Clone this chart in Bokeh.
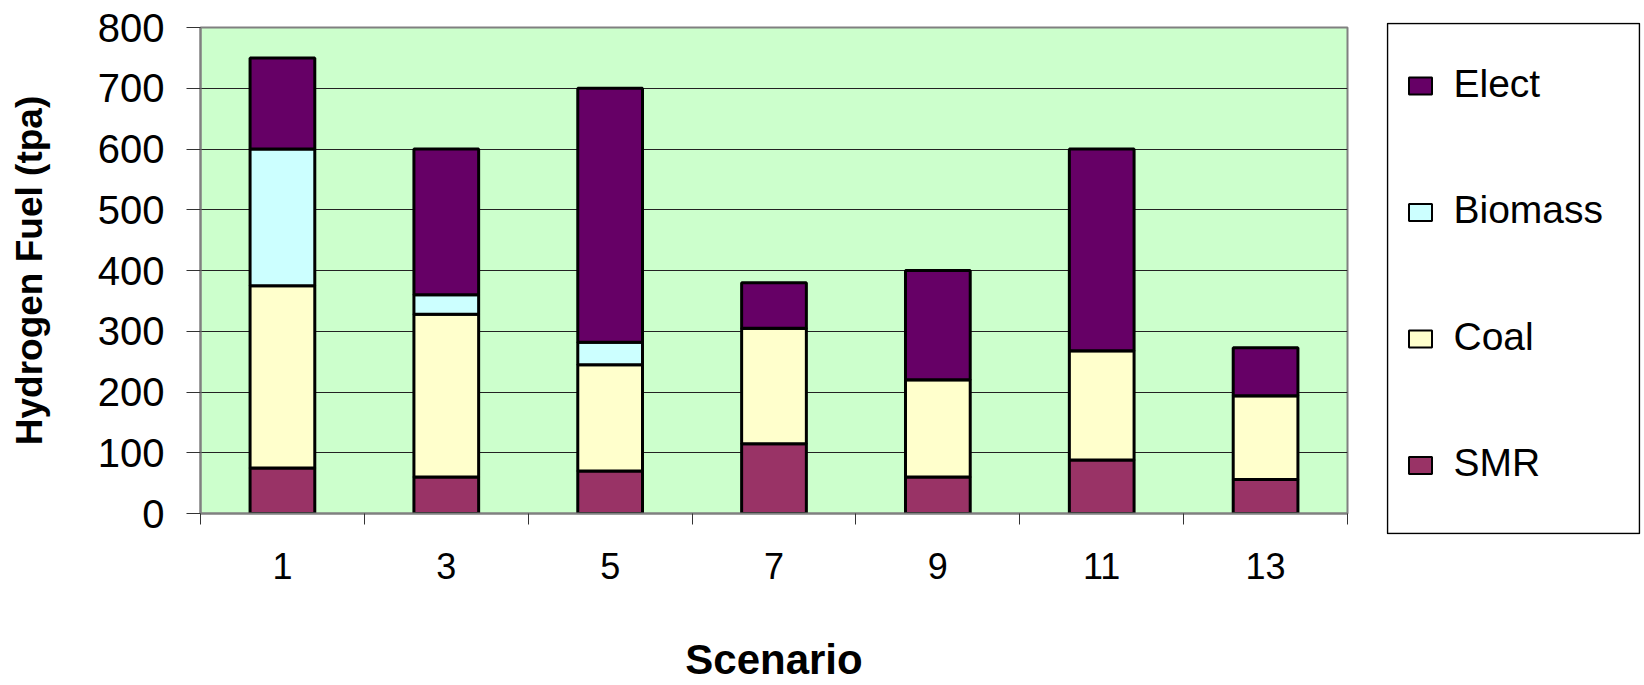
from bokeh.plotting import figure
from bokeh.models import Range1d, FixedTicker, ColumnDataSource
from bokeh.layouts import row, column
from bokeh.embed import file_html
from bokeh.resources import INLINE
from bokeh.core.properties import value

# ---- data ----
scenarios = [1, 3, 5, 7, 9, 11, 13]
series = ["SMR", "Coal", "Biomass", "Elect"]
smr = [75, 60, 70, 115, 60, 88, 56]
coal = [300, 268, 175, 190, 160, 180, 138]
biomass = [225, 32, 37, 0, 0, 0, 0]
elect = [150, 240, 418, 75, 180, 332, 79]
colors = ["#993366", "#FFFFCC", "#CCFFFF", "#660066"]
y_ticks = [0, 100, 200, 300, 400, 500, 600, 700, 800]
x_title = "Scenario"
y_title = "Hydrogen Fuel (tpa)"

FONT = "Liberation Sans"
TOP, BOTTOM = 27, 169
MAIN_W, LEG_W, H = 1380, 264, 685

source = ColumnDataSource(dict(x=scenarios, SMR=smr, Coal=coal, Biomass=biomass, Elect=elect))

boundaries = [s - 1 for s in scenarios] + [scenarios[-1] + 1]

p = figure(width=MAIN_W, height=H,
           x_range=Range1d(boundaries[0], boundaries[-1]),
           y_range=Range1d(y_ticks[0], y_ticks[-1]),
           output_backend="svg", toolbar_location=None,
           min_border_left=200, min_border_right=33,
           min_border_top=TOP, min_border_bottom=BOTTOM)

p.vbar_stack(series, x="x", width=0.79, source=source,
             fill_color=colors, line_color="black", line_width=3)

p.background_fill_color = "#CCFFCC"
p.border_fill_color = "white"
p.outline_line_color = "#808080"
p.outline_line_width = 2

p.xgrid.visible = False
p.ygrid.grid_line_color = "#222222"
p.ygrid.grid_line_width = 1

# x axis
p.xaxis.ticker = FixedTicker(ticks=scenarios, minor_ticks=boundaries)
p.xaxis.major_tick_out = 0
p.xaxis.major_tick_in = 0
p.xaxis.minor_tick_out = 11
p.xaxis.minor_tick_in = 0
p.xaxis.minor_tick_line_color = "#333333"
p.xaxis.axis_line_color = "#808080"
p.xaxis.axis_line_width = 2
p.xaxis.major_label_text_font = FONT
p.xaxis.major_label_text_font_size = "36px"
p.xaxis.major_label_text_color = "black"
p.xaxis.major_label_standoff = 28
p.xaxis.axis_label = x_title
p.xaxis.axis_label_text_font = FONT
p.xaxis.axis_label_text_font_style = "bold"
p.xaxis.axis_label_text_font_size = "42px"
p.xaxis.axis_label_text_color = "black"
p.xaxis.axis_label_standoff = 54

# y axis
p.yaxis.ticker = FixedTicker(ticks=y_ticks)
p.yaxis.minor_tick_line_color = None
p.yaxis.major_tick_out = 14
p.yaxis.major_tick_in = 0
p.yaxis.major_tick_line_color = "#333333"
p.yaxis.axis_line_color = "#808080"
p.yaxis.axis_line_width = 2
p.yaxis.major_label_text_font = FONT
p.yaxis.major_label_text_font_size = "40px"
p.yaxis.major_label_text_color = "black"
p.yaxis.major_label_standoff = 22
p.yaxis.axis_label = y_title
p.yaxis.axis_label_text_font = FONT
p.yaxis.axis_label_text_font_style = "bold"
p.yaxis.axis_label_text_font_size = "37px"
p.yaxis.axis_label_text_color = "black"
p.yaxis.axis_label_standoff = 45

# ---- legend panel (coordinates are page pixels) ----
BOX_L, BOX_R, BOX_T, BOX_B = 1387, 1639, 23, 533
LT, LB = BOX_T - 1, H - BOX_B - 1
lf = figure(width=LEG_W, height=H,
            x_range=Range1d(BOX_L - 1, BOX_R + 1), y_range=Range1d(H - LB, LT),
            x_axis_type=None, y_axis_type=None,
            output_backend="svg", toolbar_location=None,
            min_border_left=BOX_L - 1 - MAIN_W, min_border_right=MAIN_W + LEG_W - BOX_R - 1,
            min_border_top=LT, min_border_bottom=LB)
lf.grid.visible = False
lf.outline_line_color = None
lf.background_fill_color = "white"
lf.border_fill_color = "white"

lf.quad(left=[BOX_L], right=[BOX_R], top=[BOX_T], bottom=[BOX_B],
        fill_color=None, line_color="black", line_width=1.5)

leg_names = series[::-1]
leg_colors = colors[::-1]
pitch = 126.5
sq_y = [85.5 + i * pitch for i in range(len(leg_names))]
tx_y = [82.5 + i * pitch for i in range(len(leg_names))]
lf.rect(x=[1420] * len(leg_names), y=sq_y, width=23, height=17,
        fill_color=leg_colors, line_color="black", line_width=2)
lf.text(x=[1453] * len(leg_names), y=tx_y, text=leg_names,
        text_font=value(FONT), text_font_size="39px", text_color="black",
        text_baseline="middle", text_align="left")

layout = row(p, column(lf))
open("out.html", "w").write(file_html(layout, INLINE))
